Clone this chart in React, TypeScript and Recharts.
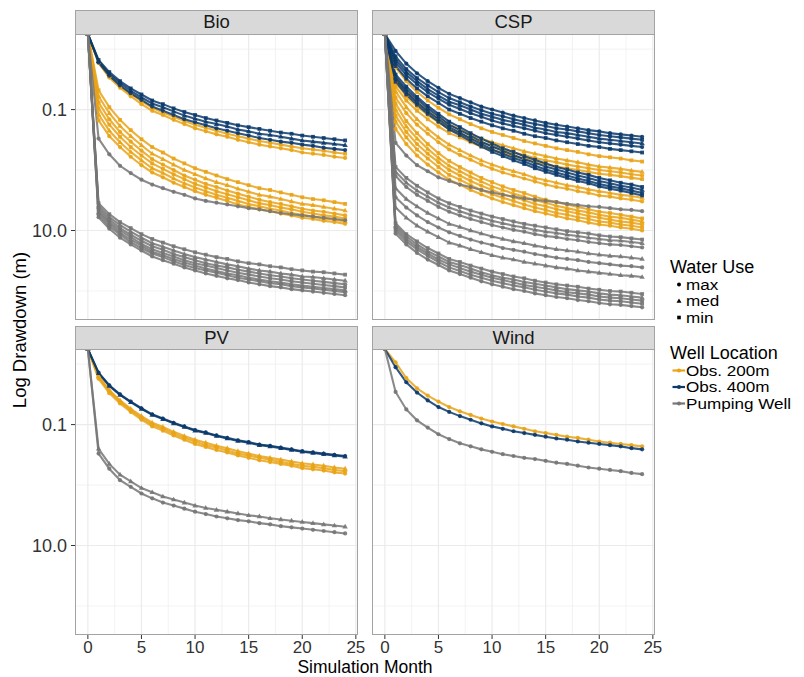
import React from "react";
import { LineChart, Line, XAxis, YAxis, ReferenceLine } from "recharts";

// Values are log10 of drawdown (m). Month 0 has zero drawdown (log10(0) = -Infinity),
// which, as in the original log scale, is drawn squished onto the panel edge.
const Z = -Infinity;

const months = [0, 1, 2, 3, 4, 5, 6, 7, 8, 9, 10, 11, 12, 13, 14, 15, 16, 17, 18, 19, 20, 21, 22, 23, 24];
const xTicks = [0, 5, 10, 15, 20, 25];
const yTicks = [-1, 1];
const yTickLabels: Record<string, string> = { "-1": "0.1", "1": "10.0" };
const yMinorGrid = [-2, 0, 2];
const xMinorGrid = [2.5, 7.5, 12.5, 17.5, 22.5];
const facetNames = ["Bio", "CSP", "PV", "Wind"];
const waterUseLabels = ["max", "med", "min"];
const wellLocationLabels = ["Obs. 200m", "Obs. 400m", "Pumping Well"];

// ---------------- Bio ----------------
const bio200_1 = [Z, -1.79, -1.56, -1.39, -1.26, -1.14, -1.03, -0.95, -0.88, -0.81, -0.75, -0.70, -0.65, -0.60, -0.56, -0.52, -0.48, -0.45, -0.42, -0.39, -0.36, -0.34, -0.32, -0.29, -0.27];
const bio200_2 = [Z, -1.77, -1.53, -1.36, -1.22, -1.09, -0.98, -0.91, -0.83, -0.76, -0.69, -0.64, -0.59, -0.55, -0.50, -0.46, -0.42, -0.39, -0.36, -0.33, -0.29, -0.27, -0.25, -0.22, -0.20];
const bio200_3 = [Z, -1.32, -1.04, -0.83, -0.66, -0.51, -0.38, -0.29, -0.19, -0.11, -0.03, 0.03, 0.09, 0.15, 0.20, 0.25, 0.30, 0.33, 0.37, 0.41, 0.45, 0.48, 0.50, 0.53, 0.56];
const bio200_4 = [Z, -1.22, -0.94, -0.73, -0.56, -0.41, -0.27, -0.18, -0.09, 0.00, 0.07, 0.14, 0.20, 0.25, 0.31, 0.36, 0.41, 0.44, 0.48, 0.52, 0.56, 0.58, 0.61, 0.64, 0.67];
const bio200_5 = [Z, -1.12, -0.84, -0.63, -0.47, -0.32, -0.18, -0.09, 0.00, 0.09, 0.16, 0.23, 0.28, 0.34, 0.39, 0.44, 0.49, 0.53, 0.56, 0.60, 0.64, 0.67, 0.69, 0.72, 0.75];
const bio200_6 = [Z, -1.02, -0.75, -0.55, -0.38, -0.24, -0.11, -0.02, 0.07, 0.15, 0.23, 0.29, 0.35, 0.40, 0.45, 0.50, 0.55, 0.58, 0.62, 0.65, 0.69, 0.72, 0.75, 0.77, 0.80];
const bio200_7 = [Z, -0.92, -0.65, -0.46, -0.30, -0.16, -0.03, 0.05, 0.14, 0.22, 0.29, 0.35, 0.41, 0.46, 0.51, 0.56, 0.60, 0.64, 0.67, 0.71, 0.74, 0.77, 0.80, 0.82, 0.85];
const bio200_8 = [Z, -0.82, -0.56, -0.38, -0.22, -0.08, 0.04, 0.12, 0.21, 0.28, 0.35, 0.41, 0.46, 0.51, 0.57, 0.61, 0.65, 0.68, 0.72, 0.75, 0.79, 0.81, 0.84, 0.86, 0.89];
const bio400_1 = [Z, -1.82, -1.62, -1.47, -1.35, -1.25, -1.15, -1.09, -1.02, -0.96, -0.91, -0.86, -0.82, -0.78, -0.74, -0.71, -0.68, -0.65, -0.62, -0.60, -0.57, -0.55, -0.53, -0.51, -0.49];
const bio400_2 = [Z, -1.80, -1.59, -1.44, -1.31, -1.20, -1.10, -1.04, -0.97, -0.90, -0.85, -0.80, -0.76, -0.72, -0.67, -0.64, -0.60, -0.58, -0.55, -0.52, -0.49, -0.47, -0.45, -0.43, -0.41];
const bio400_3 = [Z, -1.78, -1.56, -1.40, -1.27, -1.16, -1.05, -0.98, -0.91, -0.84, -0.79, -0.74, -0.69, -0.65, -0.61, -0.57, -0.53, -0.50, -0.47, -0.45, -0.42, -0.40, -0.37, -0.35, -0.33];
const bioPump_1 = [Z, -0.52, -0.26, -0.07, 0.05, 0.16, 0.24, 0.30, 0.36, 0.41, 0.47, 0.51, 0.54, 0.57, 0.60, 0.63, 0.65, 0.68, 0.71, 0.73, 0.75, 0.77, 0.79, 0.81, 0.83];
const bioPump_2 = [Z, 0.55, 0.73, 0.86, 0.96, 1.06, 1.14, 1.20, 1.26, 1.31, 1.36, 1.40, 1.44, 1.47, 1.51, 1.54, 1.56, 1.59, 1.61, 1.64, 1.66, 1.68, 1.69, 1.71, 1.73];
const bioPump_3 = [Z, 0.59, 0.78, 0.91, 1.02, 1.12, 1.21, 1.27, 1.33, 1.39, 1.44, 1.48, 1.52, 1.56, 1.59, 1.63, 1.66, 1.68, 1.71, 1.73, 1.76, 1.77, 1.79, 1.81, 1.83];
const bioPump_4 = [Z, 0.63, 0.82, 0.96, 1.07, 1.17, 1.26, 1.32, 1.39, 1.44, 1.49, 1.54, 1.58, 1.61, 1.65, 1.68, 1.71, 1.74, 1.76, 1.79, 1.81, 1.83, 1.85, 1.87, 1.89];
const bioPump_5 = [Z, 0.67, 0.86, 1.00, 1.11, 1.22, 1.31, 1.37, 1.43, 1.49, 1.54, 1.58, 1.62, 1.66, 1.70, 1.73, 1.76, 1.79, 1.81, 1.84, 1.86, 1.88, 1.90, 1.92, 1.94];
const bioPump_6 = [Z, 0.70, 0.89, 1.04, 1.15, 1.25, 1.35, 1.41, 1.47, 1.53, 1.58, 1.63, 1.67, 1.71, 1.74, 1.78, 1.81, 1.84, 1.86, 1.89, 1.91, 1.93, 1.95, 1.97, 1.99];
const bioPump_7 = [Z, 0.74, 0.93, 1.07, 1.19, 1.29, 1.38, 1.44, 1.51, 1.57, 1.62, 1.66, 1.70, 1.74, 1.78, 1.81, 1.84, 1.87, 1.89, 1.92, 1.94, 1.96, 1.98, 2.00, 2.02];
const bioPump_8 = [Z, 0.78, 0.97, 1.12, 1.23, 1.33, 1.43, 1.49, 1.55, 1.61, 1.66, 1.71, 1.75, 1.79, 1.82, 1.86, 1.89, 1.92, 1.94, 1.97, 1.99, 2.01, 2.03, 2.05, 2.07];

// ---------------- CSP ----------------
const csp200_1 = [Z, -1.70, -1.47, -1.29, -1.15, -1.03, -0.92, -0.84, -0.76, -0.69, -0.63, -0.58, -0.53, -0.48, -0.44, -0.40, -0.36, -0.33, -0.30, -0.26, -0.23, -0.21, -0.19, -0.16, -0.14];
const csp200_2 = [Z, -1.53, -1.30, -1.12, -0.98, -0.86, -0.75, -0.67, -0.59, -0.52, -0.46, -0.41, -0.36, -0.31, -0.27, -0.23, -0.19, -0.16, -0.13, -0.09, -0.06, -0.04, -0.02, 0.01, 0.03];
const csp200_3 = [Z, -1.45, -1.22, -1.05, -0.91, -0.79, -0.68, -0.60, -0.53, -0.46, -0.40, -0.34, -0.29, -0.25, -0.20, -0.16, -0.13, -0.09, -0.06, -0.03, 0.00, 0.02, 0.04, 0.07, 0.09];
const csp200_4 = [Z, -1.38, -1.15, -0.98, -0.84, -0.72, -0.61, -0.54, -0.46, -0.39, -0.33, -0.28, -0.23, -0.19, -0.14, -0.10, -0.06, -0.03, 0.00, 0.03, 0.06, 0.08, 0.10, 0.13, 0.15];
const csp200_5 = [Z, -1.30, -1.04, -0.84, -0.68, -0.54, -0.42, -0.33, -0.24, -0.16, -0.09, -0.03, 0.02, 0.07, 0.13, 0.17, 0.21, 0.25, 0.28, 0.32, 0.35, 0.38, 0.41, 0.43, 0.46];
const csp200_6 = [Z, -1.20, -0.94, -0.75, -0.60, -0.46, -0.34, -0.25, -0.17, -0.09, -0.02, 0.04, 0.09, 0.14, 0.19, 0.24, 0.28, 0.31, 0.35, 0.38, 0.42, 0.44, 0.47, 0.49, 0.52];
const csp200_7 = [Z, -1.10, -0.81, -0.61, -0.43, -0.28, -0.15, -0.05, 0.04, 0.13, 0.20, 0.27, 0.33, 0.38, 0.44, 0.49, 0.53, 0.57, 0.61, 0.65, 0.69, 0.71, 0.74, 0.77, 0.80];
const csp200_8 = [Z, -1.00, -0.72, -0.52, -0.35, -0.20, -0.07, 0.02, 0.11, 0.19, 0.27, 0.33, 0.39, 0.44, 0.50, 0.54, 0.59, 0.63, 0.67, 0.70, 0.74, 0.77, 0.79, 0.82, 0.85];
const csp200_9 = [Z, -0.90, -0.63, -0.43, -0.27, -0.13, 0.00, 0.09, 0.18, 0.26, 0.33, 0.40, 0.45, 0.50, 0.56, 0.60, 0.65, 0.68, 0.72, 0.76, 0.79, 0.82, 0.85, 0.87, 0.90];
const csp200_10 = [Z, -0.80, -0.54, -0.34, -0.19, -0.05, 0.08, 0.16, 0.25, 0.33, 0.40, 0.46, 0.51, 0.57, 0.62, 0.66, 0.71, 0.74, 0.78, 0.81, 0.85, 0.87, 0.90, 0.92, 0.95];
const csp200_11 = [Z, -0.68, -0.43, -0.24, -0.09, 0.04, 0.16, 0.24, 0.33, 0.40, 0.47, 0.53, 0.58, 0.63, 0.68, 0.72, 0.76, 0.80, 0.83, 0.87, 0.90, 0.92, 0.95, 0.97, 1.00];
const csp400_1 = [Z, -1.97, -1.76, -1.60, -1.47, -1.36, -1.26, -1.19, -1.12, -1.05, -1.00, -0.95, -0.90, -0.86, -0.82, -0.78, -0.75, -0.72, -0.69, -0.66, -0.64, -0.61, -0.59, -0.57, -0.55];
const csp400_2 = [Z, -1.88, -1.67, -1.52, -1.40, -1.29, -1.19, -1.12, -1.05, -0.99, -0.93, -0.89, -0.84, -0.80, -0.76, -0.73, -0.69, -0.67, -0.64, -0.61, -0.58, -0.56, -0.54, -0.52, -0.50];
const csp400_3 = [Z, -1.83, -1.62, -1.47, -1.34, -1.23, -1.13, -1.07, -1.00, -0.93, -0.88, -0.83, -0.79, -0.75, -0.70, -0.67, -0.63, -0.61, -0.58, -0.55, -0.52, -0.50, -0.48, -0.46, -0.44];
const csp400_4 = [Z, -1.78, -1.57, -1.42, -1.29, -1.18, -1.08, -1.01, -0.94, -0.88, -0.82, -0.77, -0.73, -0.69, -0.65, -0.61, -0.58, -0.55, -0.52, -0.49, -0.46, -0.44, -0.42, -0.40, -0.38];
const csp400_5 = [Z, -1.72, -1.51, -1.35, -1.22, -1.11, -1.00, -0.93, -0.86, -0.80, -0.74, -0.69, -0.65, -0.60, -0.56, -0.53, -0.49, -0.46, -0.43, -0.40, -0.38, -0.35, -0.33, -0.31, -0.29];
const csp400_6 = [Z, -1.58, -1.38, -1.21, -1.06, -0.93, -0.80, -0.71, -0.61, -0.52, -0.44, -0.36, -0.30, -0.23, -0.17, -0.11, -0.05, -0.01, 0.04, 0.08, 0.13, 0.17, 0.21, 0.24, 0.28];
const csp400_7 = [Z, -1.54, -1.33, -1.17, -1.02, -0.89, -0.75, -0.66, -0.57, -0.47, -0.39, -0.32, -0.25, -0.18, -0.12, -0.06, -0.01, 0.04, 0.09, 0.13, 0.18, 0.22, 0.26, 0.29, 0.33];
const csp400_8 = [Z, -1.50, -1.29, -1.12, -0.97, -0.84, -0.71, -0.62, -0.52, -0.43, -0.34, -0.27, -0.20, -0.14, -0.07, -0.01, 0.04, 0.09, 0.14, 0.18, 0.23, 0.27, 0.30, 0.34, 0.38];
const csp400_9 = [Z, -1.46, -1.25, -1.08, -0.93, -0.80, -0.67, -0.58, -0.48, -0.39, -0.30, -0.23, -0.16, -0.10, -0.03, 0.03, 0.08, 0.13, 0.18, 0.22, 0.27, 0.31, 0.34, 0.38, 0.42];
const cspPump_1 = [Z, -0.45, -0.24, -0.08, 0.02, 0.12, 0.18, 0.24, 0.28, 0.33, 0.37, 0.41, 0.44, 0.47, 0.49, 0.51, 0.53, 0.56, 0.58, 0.60, 0.61, 0.63, 0.65, 0.66, 0.68];
const cspPump_2 = [Z, -0.05, 0.13, 0.26, 0.37, 0.47, 0.55, 0.61, 0.67, 0.72, 0.77, 0.81, 0.85, 0.89, 0.92, 0.95, 0.98, 1.01, 1.03, 1.05, 1.08, 1.10, 1.11, 1.13, 1.15];
const cspPump_3 = [Z, 0.03, 0.21, 0.34, 0.44, 0.54, 0.62, 0.68, 0.74, 0.79, 0.84, 0.88, 0.92, 0.95, 0.99, 1.02, 1.04, 1.07, 1.09, 1.12, 1.14, 1.16, 1.17, 1.19, 1.21];
const cspPump_4 = [Z, 0.10, 0.28, 0.41, 0.51, 0.61, 0.69, 0.75, 0.81, 0.86, 0.91, 0.95, 0.99, 1.02, 1.06, 1.09, 1.11, 1.14, 1.16, 1.19, 1.21, 1.23, 1.24, 1.26, 1.28];
const cspPump_5 = [Z, 0.30, 0.48, 0.60, 0.71, 0.80, 0.89, 0.94, 1.00, 1.05, 1.10, 1.14, 1.18, 1.21, 1.25, 1.28, 1.31, 1.33, 1.35, 1.38, 1.40, 1.42, 1.43, 1.45, 1.47];
const cspPump_6 = [Z, 0.45, 0.62, 0.75, 0.86, 0.95, 1.03, 1.09, 1.15, 1.20, 1.24, 1.29, 1.32, 1.35, 1.39, 1.42, 1.45, 1.47, 1.49, 1.52, 1.54, 1.56, 1.58, 1.59, 1.61];
const cspPump_7 = [Z, 0.62, 0.79, 0.92, 1.02, 1.11, 1.20, 1.25, 1.31, 1.36, 1.41, 1.45, 1.48, 1.52, 1.55, 1.58, 1.61, 1.63, 1.66, 1.68, 1.70, 1.72, 1.74, 1.75, 1.77];
const cspPump_8 = [Z, 0.88, 1.06, 1.18, 1.29, 1.38, 1.47, 1.52, 1.58, 1.63, 1.68, 1.72, 1.76, 1.79, 1.83, 1.86, 1.89, 1.91, 1.93, 1.96, 1.98, 2.00, 2.01, 2.03, 2.05];
const cspPump_9 = [Z, 0.92, 1.10, 1.23, 1.34, 1.43, 1.52, 1.57, 1.63, 1.69, 1.74, 1.78, 1.81, 1.85, 1.88, 1.91, 1.94, 1.97, 1.99, 2.01, 2.04, 2.06, 2.07, 2.09, 2.11];
const cspPump_10 = [Z, 0.96, 1.14, 1.27, 1.38, 1.48, 1.56, 1.62, 1.68, 1.73, 1.78, 1.82, 1.86, 1.90, 1.93, 1.96, 1.99, 2.02, 2.04, 2.06, 2.09, 2.11, 2.12, 2.14, 2.16];
const cspPump_11 = [Z, 1.00, 1.18, 1.31, 1.42, 1.52, 1.61, 1.67, 1.73, 1.78, 1.83, 1.87, 1.91, 1.94, 1.98, 2.01, 2.04, 2.06, 2.09, 2.11, 2.14, 2.16, 2.17, 2.19, 2.21];
const cspPump_12 = [Z, 1.05, 1.23, 1.37, 1.48, 1.57, 1.66, 1.72, 1.78, 1.84, 1.89, 1.93, 1.97, 2.00, 2.04, 2.07, 2.10, 2.12, 2.15, 2.17, 2.20, 2.22, 2.23, 2.25, 2.27];

// ---------------- PV ----------------
const pv200_1 = [Z, -1.80, -1.57, -1.40, -1.26, -1.14, -1.03, -0.96, -0.88, -0.81, -0.75, -0.70, -0.65, -0.61, -0.56, -0.52, -0.48, -0.45, -0.42, -0.39, -0.36, -0.34, -0.32, -0.29, -0.27];
const pv200_2 = [Z, -1.78, -1.55, -1.38, -1.24, -1.11, -1.00, -0.93, -0.85, -0.78, -0.72, -0.66, -0.62, -0.57, -0.52, -0.49, -0.45, -0.42, -0.38, -0.35, -0.32, -0.30, -0.28, -0.25, -0.23];
const pv200_3 = [Z, -1.76, -1.52, -1.35, -1.21, -1.08, -0.97, -0.90, -0.82, -0.75, -0.68, -0.63, -0.58, -0.54, -0.49, -0.45, -0.41, -0.38, -0.35, -0.32, -0.28, -0.26, -0.24, -0.21, -0.19];
const pv400_1 = [Z, -1.86, -1.65, -1.50, -1.38, -1.27, -1.17, -1.10, -1.03, -0.97, -0.91, -0.87, -0.82, -0.78, -0.74, -0.71, -0.67, -0.65, -0.62, -0.59, -0.56, -0.54, -0.52, -0.50, -0.48];
const pv400_2 = [Z, -1.85, -1.64, -1.49, -1.37, -1.26, -1.16, -1.09, -1.02, -0.96, -0.90, -0.86, -0.81, -0.77, -0.73, -0.70, -0.66, -0.64, -0.61, -0.58, -0.55, -0.53, -0.51, -0.49, -0.47];
const pvPump_1 = [Z, -0.60, -0.35, -0.17, -0.06, 0.05, 0.12, 0.19, 0.24, 0.29, 0.34, 0.38, 0.41, 0.44, 0.47, 0.50, 0.52, 0.55, 0.57, 0.59, 0.61, 0.63, 0.65, 0.67, 0.69];
const pvPump_2 = [Z, -0.52, -0.27, -0.08, 0.03, 0.14, 0.22, 0.29, 0.34, 0.39, 0.44, 0.48, 0.52, 0.55, 0.58, 0.60, 0.63, 0.65, 0.68, 0.70, 0.72, 0.74, 0.76, 0.78, 0.80];

// ---------------- Wind ----------------
const wind200 = [Z, -2.03, -1.77, -1.60, -1.48, -1.38, -1.29, -1.22, -1.16, -1.10, -1.05, -1.01, -0.97, -0.93, -0.89, -0.86, -0.83, -0.80, -0.78, -0.75, -0.72, -0.70, -0.68, -0.66, -0.64];
const wind400 = [Z, -1.95, -1.70, -1.53, -1.40, -1.29, -1.21, -1.14, -1.08, -1.02, -0.97, -0.93, -0.89, -0.86, -0.83, -0.80, -0.77, -0.75, -0.72, -0.70, -0.68, -0.66, -0.64, -0.61, -0.59];
const windPump = [Z, -1.54, -1.25, -1.07, -0.95, -0.84, -0.76, -0.69, -0.64, -0.59, -0.55, -0.51, -0.48, -0.45, -0.43, -0.40, -0.37, -0.35, -0.32, -0.29, -0.27, -0.25, -0.23, -0.20, -0.18];

type Loc = "obs200" | "obs400" | "pump";
type Use = "max" | "med" | "min";
type Series = { key: string; data: number[]; loc: Loc; use: Use };

const bioSeries: Series[] = [
  { key: "b200_1", data: bio200_1, loc: "obs200", use: "min" },
  { key: "b200_2", data: bio200_2, loc: "obs200", use: "max" },
  { key: "b200_3", data: bio200_3, loc: "obs200", use: "min" },
  { key: "b200_4", data: bio200_4, loc: "obs200", use: "med" },
  { key: "b200_5", data: bio200_5, loc: "obs200", use: "max" },
  { key: "b200_6", data: bio200_6, loc: "obs200", use: "min" },
  { key: "b200_7", data: bio200_7, loc: "obs200", use: "med" },
  { key: "b200_8", data: bio200_8, loc: "obs200", use: "max" },
  { key: "b400_1", data: bio400_1, loc: "obs400", use: "min" },
  { key: "b400_2", data: bio400_2, loc: "obs400", use: "med" },
  { key: "b400_3", data: bio400_3, loc: "obs400", use: "max" },
  { key: "bP_1", data: bioPump_1, loc: "pump", use: "max" },
  { key: "bP_2", data: bioPump_2, loc: "pump", use: "min" },
  { key: "bP_3", data: bioPump_3, loc: "pump", use: "med" },
  { key: "bP_4", data: bioPump_4, loc: "pump", use: "max" },
  { key: "bP_5", data: bioPump_5, loc: "pump", use: "min" },
  { key: "bP_6", data: bioPump_6, loc: "pump", use: "med" },
  { key: "bP_7", data: bioPump_7, loc: "pump", use: "max" },
  { key: "bP_8", data: bioPump_8, loc: "pump", use: "max" },
];

const cspSeries: Series[] = [
  { key: "c200_1", data: csp200_1, loc: "obs200", use: "min" },
  { key: "c200_2", data: csp200_2, loc: "obs200", use: "med" },
  { key: "c200_3", data: csp200_3, loc: "obs200", use: "max" },
  { key: "c200_4", data: csp200_4, loc: "obs200", use: "min" },
  { key: "c200_5", data: csp200_5, loc: "obs200", use: "med" },
  { key: "c200_6", data: csp200_6, loc: "obs200", use: "max" },
  { key: "c200_7", data: csp200_7, loc: "obs200", use: "min" },
  { key: "c200_8", data: csp200_8, loc: "obs200", use: "med" },
  { key: "c200_9", data: csp200_9, loc: "obs200", use: "max" },
  { key: "c200_10", data: csp200_10, loc: "obs200", use: "min" },
  { key: "c200_11", data: csp200_11, loc: "obs200", use: "max" },
  { key: "c400_1", data: csp400_1, loc: "obs400", use: "max" },
  { key: "c400_2", data: csp400_2, loc: "obs400", use: "min" },
  { key: "c400_3", data: csp400_3, loc: "obs400", use: "med" },
  { key: "c400_4", data: csp400_4, loc: "obs400", use: "max" },
  { key: "c400_5", data: csp400_5, loc: "obs400", use: "min" },
  { key: "c400_6", data: csp400_6, loc: "obs400", use: "min" },
  { key: "c400_7", data: csp400_7, loc: "obs400", use: "med" },
  { key: "c400_8", data: csp400_8, loc: "obs400", use: "max" },
  { key: "c400_9", data: csp400_9, loc: "obs400", use: "min" },
  { key: "cP_1", data: cspPump_1, loc: "pump", use: "max" },
  { key: "cP_2", data: cspPump_2, loc: "pump", use: "min" },
  { key: "cP_3", data: cspPump_3, loc: "pump", use: "med" },
  { key: "cP_4", data: cspPump_4, loc: "pump", use: "max" },
  { key: "cP_5", data: cspPump_5, loc: "pump", use: "med" },
  { key: "cP_6", data: cspPump_6, loc: "pump", use: "max" },
  { key: "cP_7", data: cspPump_7, loc: "pump", use: "med" },
  { key: "cP_8", data: cspPump_8, loc: "pump", use: "min" },
  { key: "cP_9", data: cspPump_9, loc: "pump", use: "med" },
  { key: "cP_10", data: cspPump_10, loc: "pump", use: "max" },
  { key: "cP_11", data: cspPump_11, loc: "pump", use: "min" },
  { key: "cP_12", data: cspPump_12, loc: "pump", use: "max" },
];

const pvSeries: Series[] = [
  { key: "p200_1", data: pv200_1, loc: "obs200", use: "med" },
  { key: "p200_2", data: pv200_2, loc: "obs200", use: "max" },
  { key: "p200_3", data: pv200_3, loc: "obs200", use: "max" },
  { key: "p400_1", data: pv400_1, loc: "obs400", use: "max" },
  { key: "p400_2", data: pv400_2, loc: "obs400", use: "med" },
  { key: "pP_1", data: pvPump_1, loc: "pump", use: "med" },
  { key: "pP_2", data: pvPump_2, loc: "pump", use: "max" },
];

const windSeries: Series[] = [
  { key: "w200", data: wind200, loc: "obs200", use: "max" },
  { key: "w400", data: wind400, loc: "obs400", use: "max" },
  { key: "wP", data: windPump, loc: "pump", use: "max" },
];

const COLORS: Record<Loc, string> = { obs200: "#E9A316", obs400: "#0B3A6B", pump: "#767676" };
const FONT = "'Liberation Sans', Arial, Helvetica, sans-serif";
const Y_MIN = -2.25;
const Y_MAX = 2.48;
const X_MIN = -1.2;
const X_MAX = 25.2;
const GRID = "#EBEBEB";
const BORDER = "#A3A3A3";
const TEXT = "#333333";
const RIGHT_PAD = 14;

function buildRows(series: Series[]) {
  return months.map((m, i) => {
    const row: Record<string, number> = { month: m };
    series.forEach((s) => {
      const v = s.data[i];
      row[s.key] = Number.isFinite(v) ? v : Y_MIN;
    });
    return row;
  });
}

function makeDot(use: Use, color: string) {
  return (props: any) => {
    const { cx, cy, index } = props;
    const k = `d${index}`;
    if (cx == null || cy == null || Number.isNaN(cx) || Number.isNaN(cy)) return <g key={k} />;
    if (use === "max") return <circle key={k} cx={cx} cy={cy} r={2.1} fill={color} fillOpacity={0.9} />;
    if (use === "med")
      return (
        <polygon
          key={k}
          points={`${cx},${cy - 2.9} ${cx + 2.7},${cy + 1.8} ${cx - 2.7},${cy + 1.8}`}
          fill={color}
          fillOpacity={0.9}
        />
      );
    return <rect key={k} x={cx - 1.9} y={cy - 1.9} width={3.8} height={3.8} fill={color} fillOpacity={0.9} />;
  };
}

type PanelProps = {
  left: number;
  top: number;
  width: number;
  height: number;
  series: Series[];
  showX: boolean;
  showY: boolean;
};

function Panel({ left, top, width, height, series, showX, showY }: PanelProps) {
  const rows = buildRows(series);
  const ordered = [
    ...series.filter((s) => s.loc === "obs200"),
    ...series.filter((s) => s.loc === "obs400"),
    ...series.filter((s) => s.loc === "pump"),
  ];
  return (
    <div style={{ position: "absolute", left, top }}>
      <LineChart
        width={width + RIGHT_PAD}
        height={height}
        data={rows}
        margin={{ top: 0, right: RIGHT_PAD, bottom: 0, left: 0 }}
      >
        <XAxis
          dataKey="month"
          type="number"
          domain={[X_MIN, X_MAX]}
          ticks={xTicks}
          hide={!showX}
          height={22}
          tickSize={4}
          tickMargin={2}
          axisLine={false}
          tickLine={{ stroke: TEXT, strokeWidth: 1 }}
          tick={{ fill: TEXT, fontSize: 17, fontFamily: FONT }}
          allowDataOverflow
          interval={0}
        />
        <YAxis
          type="number"
          domain={[Y_MIN, Y_MAX]}
          reversed
          ticks={yTicks}
          hide={!showY}
          width={45}
          tickSize={4}
          tickMargin={4}
          axisLine={false}
          tickLine={{ stroke: TEXT, strokeWidth: 1 }}
          tick={{ fill: TEXT, fontSize: 18, fontFamily: FONT }}
          tickFormatter={(v: number) => yTickLabels[String(v)] ?? ""}
          allowDataOverflow
          interval={0}
        />
        {yMinorGrid.map((v) => (
          <ReferenceLine key={`ym${v}`} y={v} stroke={GRID} strokeWidth={0.6} />
        ))}
        {xMinorGrid.map((v) => (
          <ReferenceLine key={`xm${v}`} x={v} stroke={GRID} strokeWidth={0.6} />
        ))}
        {yTicks.map((v) => (
          <ReferenceLine key={`yM${v}`} y={v} stroke={GRID} strokeWidth={1.2} />
        ))}
        {xTicks.map((v) => (
          <ReferenceLine key={`xM${v}`} x={v} stroke={GRID} strokeWidth={1.2} />
        ))}
        {ordered.map((s) => (
          <Line
            key={s.key}
            dataKey={s.key}
            type="linear"
            stroke={COLORS[s.loc]}
            strokeWidth={2.1}
            strokeOpacity={0.85}
            dot={makeDot(s.use, COLORS[s.loc])}
            activeDot={false}
            isAnimationActive={false}
          />
        ))}
      </LineChart>
    </div>
  );
}

function Strip({ left, top, width, height, label }: { left: number; top: number; width: number; height: number; label: string }) {
  return (
    <div
      style={{
        position: "absolute",
        left,
        top,
        width,
        height,
        boxSizing: "border-box",
        background: "#D9D9D9",
        border: `1px solid ${BORDER}`,
        display: "flex",
        alignItems: "center",
        justifyContent: "center",
        fontFamily: FONT,
        fontSize: 18.5,
        color: "#1A1A1A",
      }}
    >
      {label}
    </div>
  );
}

function Border({ left, top, width, height }: { left: number; top: number; width: number; height: number }) {
  return (
    <div
      style={{
        position: "absolute",
        left,
        top,
        width,
        height,
        boxSizing: "border-box",
        border: `1px solid ${BORDER}`,
        pointerEvents: "none",
      }}
    />
  );
}

function Legend() {
  const shapeKey = (use: Use, cx: number, cy: number) => {
    if (use === "max") return <circle cx={cx} cy={cy} r={2} fill="#000" />;
    if (use === "med") return <polygon points={`${cx},${cy - 2.6} ${cx + 2.5},${cy + 1.7} ${cx - 2.5},${cy + 1.7}`} fill="#000" />;
    return <rect x={cx - 1.8} y={cy - 1.8} width={3.6} height={3.6} fill="#000" />;
  };
  const useY = [284.5, 301, 317.5];
  const locY = [370.5, 387, 403.5];
  const locColors = [COLORS.obs200, COLORS.obs400, COLORS.pump];
  const ITEM_FS = 14.5;
  const item = (x: number, cy: number, label: string) => (
    <text x={0} y={0} fontSize={ITEM_FS} transform={`translate(${x},${cy + 5.2}) scale(1.18,1)`}>
      {label}
    </text>
  );
  return (
    <svg width={804} height={677} style={{ position: "absolute", left: 0, top: 0, pointerEvents: "none" }}>
      <g fontFamily={FONT} fill="#000">
        <text x={670} y={272.5} fontSize={18}>Water Use</text>
        {waterUseLabels.map((lab, i) => (
          <g key={lab}>
            {shapeKey(lab as Use, 679, useY[i])}
            {item(686, useY[i], lab)}
          </g>
        ))}
        <text x={670} y={358.5} fontSize={18}>Well Location</text>
        {wellLocationLabels.map((lab, i) => (
          <g key={lab}>
            <line x1={672.5} x2={685} y1={locY[i]} y2={locY[i]} stroke={locColors[i]} strokeWidth={2.2} />
            <circle cx={679} cy={locY[i]} r={2} fill={locColors[i]} />
            {item(686, locY[i], lab)}
          </g>
        ))}
        <text x={365} y={673} fontSize={17.5} textAnchor="middle">Simulation Month</text>
        <text x={0} y={0} fontSize={18.5} textAnchor="middle" transform="translate(26,330) rotate(-90)">Log Drawdown (m)</text>
      </g>
    </svg>
  );
}

export default function App() {
  const PW = 283;
  const PH = 286;
  return (
    <div style={{ position: "absolute", left: 0, top: 0, width: 804, height: 677, background: "#fff", overflow: "hidden" }}>
      <Strip left={75} top={10} width={PW} height={24.5} label={facetNames[0]} />
      <Strip left={372} top={10} width={PW} height={24.5} label={facetNames[1]} />
      <Strip left={75} top={326} width={PW} height={24} label={facetNames[2]} />
      <Strip left={372} top={326} width={PW} height={24} label={facetNames[3]} />
      <Panel left={30} top={34} width={45 + PW} height={PH} series={bioSeries} showX={false} showY={true} />
      <Panel left={372} top={34} width={PW} height={PH} series={cspSeries} showX={false} showY={false} />
      <Panel left={30} top={349} width={45 + PW} height={PH + 22} series={pvSeries} showX={true} showY={true} />
      <Panel left={372} top={349} width={PW} height={PH + 22} series={windSeries} showX={true} showY={false} />
      <Border left={75} top={34} width={PW} height={PH} />
      <Border left={372} top={34} width={PW} height={PH} />
      <Border left={75} top={349} width={PW} height={PH} />
      <Border left={372} top={349} width={PW} height={PH} />
      <Legend />
    </div>
  );
}
